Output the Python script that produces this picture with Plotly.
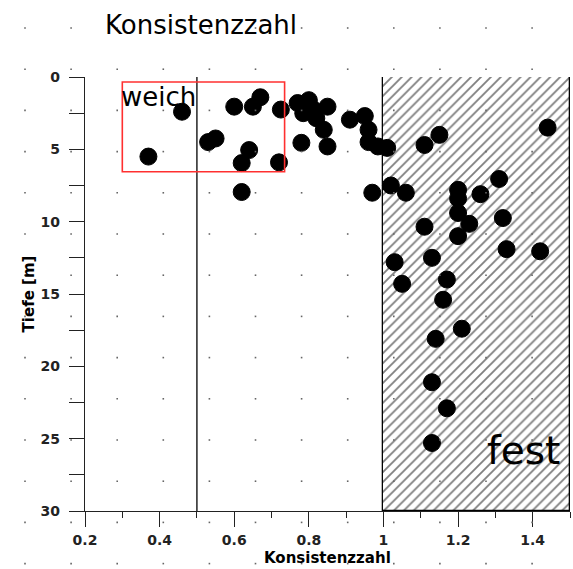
import numpy as np
import plotly.graph_objects as go

# Konsistenzzahl (Ic) against depth
ic_values = [0.37, 0.46, 0.53, 0.55, 0.60, 0.65, 0.67, 0.725, 0.64, 0.62, 0.72, 0.62,
             0.77, 0.80, 0.85, 0.785, 0.82, 0.84, 0.81, 0.78, 0.85,
             0.91, 0.95, 0.96, 0.96, 0.985, 1.01, 0.97, 1.02, 1.06,
             1.11, 1.15, 1.44, 1.20, 1.20, 1.26, 1.31, 1.20, 1.23, 1.32,
             1.11, 1.20, 1.33, 1.42, 1.03, 1.13, 1.05, 1.17, 1.16, 1.21,
             1.14, 1.13, 1.17, 1.13]
depth_m = [5.5, 2.4, 4.5, 4.25, 2.05, 2.05, 1.4, 2.25, 5.05, 5.95, 5.9, 7.95,
           1.8, 1.6, 2.05, 2.5, 2.85, 3.65, 2.2, 4.55, 4.8,
           2.95, 2.7, 3.65, 4.5, 4.8, 4.9, 8.0, 7.5, 8.0,
           4.7, 4.0, 3.5, 7.8, 8.4, 8.1, 7.05, 9.4, 10.15, 9.75,
           10.35, 11.0, 11.9, 12.05, 12.8, 12.5, 14.3, 14.0, 15.4, 17.4,
           18.1, 21.1, 22.9, 25.3]

# zones
soft_zone = {"ic": [0.3, 0.735], "depth": [0.35, 6.55]}
firm_zone = {"ic": [1.0, 1.5], "depth": [0.0, 30.0]}
soft_limit = 0.5

x_ticks = [0.2, 0.4, 0.6, 0.8, 1.0, 1.2, 1.4]
x_tick_text = ["0.2", "0.4", "0.6", "0.8", "1", "1.2", "1.4"]
y_ticks = [0, 5, 10, 15, 20, 25, 30]

FONT = "DejaVu Sans"
W, H = 573, 569
ML, MR, MT, MB = 85, 3, 77, 58
pw, ph = W - ML - MR, H - MT - MB

fig = go.Figure()

# hatched "fest" region
fig.add_trace(go.Bar(
    x=[(firm_zone["ic"][0] + firm_zone["ic"][1]) / 2],
    width=[firm_zone["ic"][1] - firm_zone["ic"][0]],
    y=[firm_zone["depth"][1] - firm_zone["depth"][0]],
    base=[firm_zone["depth"][0]],
    marker=dict(color="white",
                line=dict(color="black", width=1.3),
                pattern=dict(shape="/", size=7, solidity=0.26,
                             fgcolor="black", bgcolor="white")),
    hoverinfo="skip", showlegend=False,
))

# measurements
fig.add_trace(go.Scatter(
    x=ic_values, y=depth_m, mode="markers",
    marker=dict(size=17, color="black", line=dict(color="black", width=1)),
    showlegend=False,
))

shapes = []
# limit line Ic = 0.5
shapes.append(dict(type="line", xref="x", yref="y",
                   x0=soft_limit, x1=soft_limit, y0=0, y1=30,
                   line=dict(color="black", width=1.3), layer="above"))
# "weich" box
shapes.append(dict(type="rect", xref="x", yref="y",
                   x0=soft_zone["ic"][0], x1=soft_zone["ic"][1],
                   y0=soft_zone["depth"][0], y1=soft_zone["depth"][1],
                   line=dict(color="#ff3030", width=1.6), layer="above"))

# dotted drawing-canvas grid
for i in range(12):
    px = 25 + 46.1 * i
    for j in range(14):
        py = 28 + 41.2 * j
        x0 = (px - 0.8 - ML) / pw
        x1 = (px + 0.8 - ML) / pw
        y0 = (H - MB - (py + 0.8)) / ph
        y1 = (H - MB - (py - 0.8)) / ph
        shapes.append(dict(type="rect", xref="paper", yref="paper",
                           x0=x0, x1=x1, y0=y0, y1=y1,
                           line=dict(width=0), fillcolor="#666", layer="above"))

fig.update_layout(
    width=W, height=H,
    margin=dict(l=ML, r=MR, t=MT, b=MB),
    paper_bgcolor="white", plot_bgcolor="white",
    bargap=0,
    shapes=shapes,
    title=dict(text="Konsistenzzahl", x=105 / W, xanchor="left",
               xref="container", y=1 - 25 / H, yanchor="middle",
               yref="container",
               font=dict(family=FONT, size=26, color="black")),
    annotations=[
        dict(text="weich", x=soft_zone["ic"][0], y=soft_zone["depth"][0],
             xref="x", yref="y", xanchor="left", yanchor="top",
             showarrow=False, xshift=-3, yshift=2,
             font=dict(family=FONT, size=26, color="black")),
        dict(text="fest", x=firm_zone["ic"][1], y=firm_zone["depth"][1],
             xref="x", yref="y", xanchor="right", yanchor="bottom",
             showarrow=False, xshift=-8, yshift=36,
             font=dict(family=FONT, size=39, color="black")),
        # x-axis title
        dict(text="<b>Konsistenzzahl</b>", x=0.5, y=(H - MB - (H - 0.5)) / ph,
             xref="paper", yref="paper", xanchor="center", yanchor="bottom",
             showarrow=False,
             font=dict(family=FONT, size=15, color="black")),
    ],
    xaxis=dict(
        range=[0.2, 1.5], tickvals=x_ticks, ticktext=x_tick_text,
        ticks="outside", ticklen=15, tickwidth=1.3, tickcolor="#222",
        minor=dict(dtick=0.1, tick0=0.2, ticks="outside", ticklen=6,
                   tickwidth=1.3, tickcolor="#222"),
        showline=True, linecolor="#222", linewidth=1.3,
        showgrid=False, zeroline=False, ticklabelstandoff=1,
        tickfont=dict(family=FONT, size=14, color="#222", weight="bold"),
    ),
    yaxis=dict(
        range=[30, 0], tickvals=y_ticks,
        ticks="outside", ticklen=15, tickwidth=1.3, tickcolor="#222",
        minor=dict(dtick=2.5, tick0=0, ticks="outside", ticklen=15,
                   tickwidth=1.3, tickcolor="#222"),
        showline=True, linecolor="#222", linewidth=1.3,
        showgrid=False, zeroline=False, ticklabelstandoff=6,
        tickfont=dict(family=FONT, size=14, color="#222", weight="bold"),
        title=dict(text="Tiefe [m]", standoff=2,
                   font=dict(family=FONT, size=15, color="black", weight="bold")),
    ),
)

fig.write_html("out.html")
